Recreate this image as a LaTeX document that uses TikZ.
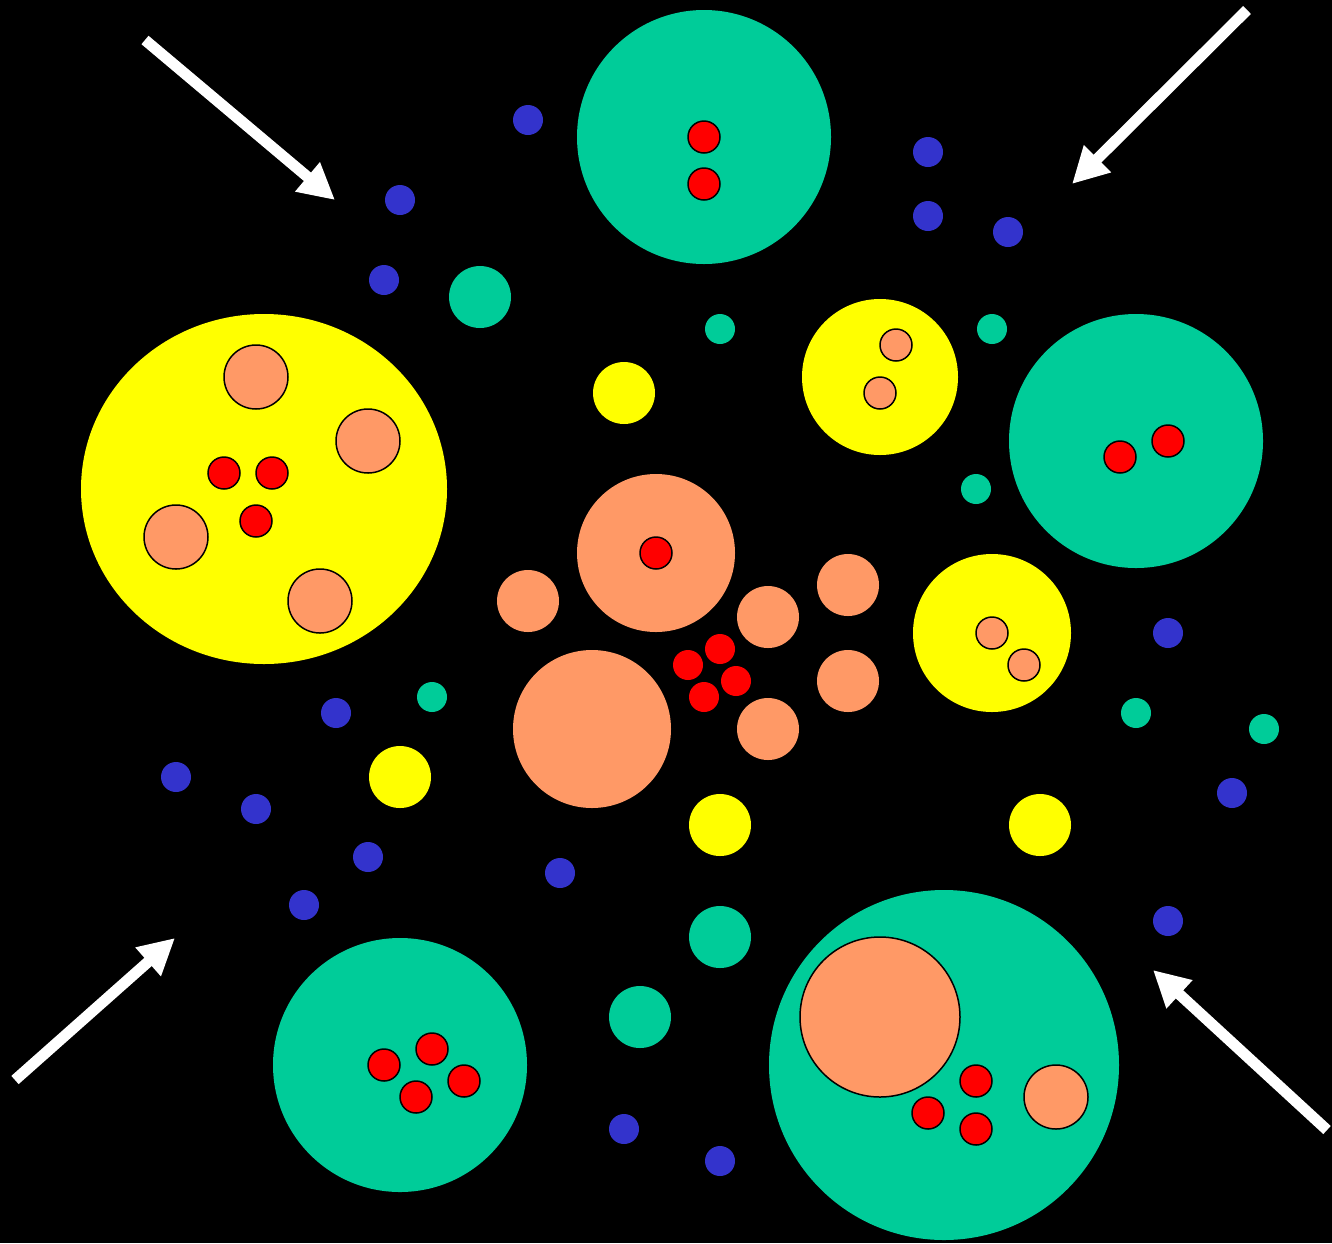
\documentclass[tikz,border=0pt]{standalone}
\usetikzlibrary{arrows.meta}
\definecolor{cteal}{HTML}{00CC99}
\definecolor{cyel}{HTML}{FFFF00}
\definecolor{corg}{HTML}{FF9966}
\definecolor{cred}{HTML}{FF0000}
\definecolor{cblue}{HTML}{3333CC}
\tikzset{
  tealc/.style={fill=cteal},
  yelc/.style={fill=cyel},
  orgc/.style={fill=corg},
  redc/.style={fill=cred},
  bluec/.style={fill=cblue},
  ring/.style={draw=black,line width=1.5pt},
  bigarrow/.style={draw=white,line width=11pt,-{Triangle[length=36pt,width=36pt]}}
}
\newcommand{\blob}[4][]{\path[#2,#1] (#3) circle[radius=#4pt];}
\begin{document}
\begin{tikzpicture}[x=1pt,y=-1pt]
\fill[black] (0,0) rectangle (1332,1243);
\useasboundingbox (0,0) rectangle (1332,1243);
% top teal
\blob{tealc}{704,137}{127}
\blob[ring]{redc}{704,137}{16}
\blob[ring]{redc}{704,184}{16}
% blue dots
\foreach \p in {{528,120},{400,200},{384,280},{928,152},{928,216},{1008,232},{1168,633},{1232,793},{1168,921},{336,713},{176,777},{256,809},{368,857},{304,905},{560,873},{624,1129},{720,1161}}
  {\blob{bluec}{\p}{15}}
% small teal
\blob{tealc}{480,297}{31}
\foreach \p in {{720,329},{992,329},{976,489},{432,697},{1136,713},{1264,729}}
  {\blob{tealc}{\p}{15}}
\blob{tealc}{720,937}{31}
\blob{tealc}{640,1017}{31}
% small yellow
\foreach \p in {{624,393},{400,777},{720,825},{1040,825}}
  {\blob{yelc}{\p}{31}}
% big yellow left
\fill[cyel] (264,489) ellipse[x radius=183pt,y radius=175pt];
\foreach \p in {{256,377},{368,441},{176,537},{320,601}}
  {\blob[ring]{orgc}{\p}{32}}
\foreach \p in {{224,473},{272,473},{256,521}}
  {\blob[ring]{redc}{\p}{16}}
% yellow right top
\blob{yelc}{880,377}{78}
\blob[ring]{orgc}{896,345}{16}
\blob[ring]{orgc}{880,393}{16}
% teal right
\blob{tealc}{1136,441}{127}
\blob[ring]{redc}{1120,457}{16}
\blob[ring]{redc}{1168,441}{16}
% central orange
\blob{orgc}{656,553}{79}
\blob[ring]{redc}{656,553}{16}
\blob{orgc}{592,729}{79}
\foreach \p in {{528,601},{768,617},{848,585},{848,681},{768,729}}
  {\blob{orgc}{\p}{31}}
\foreach \p in {{720,649},{688,665},{736,681},{704,697}}
  {\blob{redc}{\p}{15}}
% yellow right middle
\blob{yelc}{992,633}{79}
\blob[ring]{orgc}{992,633}{16}
\blob[ring]{orgc}{1024,665}{16}
% teal bottom left
\blob{tealc}{400,1065}{127}
\foreach \p in {{384,1065},{432,1049},{464,1081},{416,1097}}
  {\blob[ring]{redc}{\p}{16}}
% big teal bottom right
\blob{tealc}{944,1065}{175}
\blob[ring]{orgc}{880,1017}{80}
\blob[ring]{orgc}{1056,1097}{32}
\foreach \p in {{976,1081},{928,1113},{976,1129}}
  {\blob[ring]{redc}{\p}{16}}
% arrows
\coordinate (a1s) at (145,40);   \coordinate (a1e) at (335,200);
\coordinate (a2s) at (1247,10);  \coordinate (a2e) at (1072,184);
\coordinate (a3s) at (15,1080);  \coordinate (a3e) at (175,938);
\coordinate (a4s) at (1327,1130);\coordinate (a4e) at (1153,970);
\draw[bigarrow] (a1s) -- (a1e);
\draw[bigarrow] (a2s) -- (a2e);
\draw[bigarrow] (a3s) -- (a3e);
\draw[bigarrow] (a4s) -- (a4e);
\end{tikzpicture}
\end{document}
